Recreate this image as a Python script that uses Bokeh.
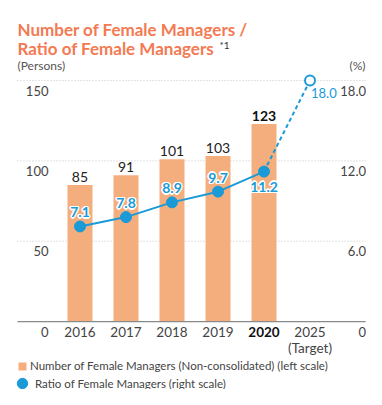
from bokeh.plotting import figure
from bokeh.models import Range1d, Label, Legend, LegendItem, ColumnDataSource
from bokeh.core.properties import value
from bokeh.embed import file_html
from bokeh.resources import INLINE

# ---- data ----
years = ["2016", "2017", "2018", "2019", "2020", "2025"]
year_sub = ["", "", "", "", "", "(Target)"]
managers = [85, 91, 101, 103, 123]
ratios = [7.1, 7.8, 8.9, 9.7, 11.2]
target_ratio = 18.0
left_ticks = [0, 50, 100, 150]
right_ticks = [0, 6.0, 12.0, 18.0]
right_tick_labels = ["0", "6.0", "12.0", "18.0"]

FONT = "Lato"
ORANGE = "#F4AE7D"
BLUE = "#1A9AD7"
TITLE_C = "#F37A52"
TXT = "#444444"

W, H = 366, 389
LEFT_MAX = 150.0
RIGHT_MAX = 18.0
y0, y1 = -42.3, 199.8
p = figure(width=W, height=H, output_backend="svg", toolbar_location=None,
           x_range=Range1d(-1.728, 6.228), y_range=Range1d(y0, y1),
           min_border=0, outline_line_color=None)
p.extra_y_ranges = {"right": Range1d(y0 * RIGHT_MAX / LEFT_MAX, y1 * RIGHT_MAX / LEFT_MAX)}
p.axis.visible = False
p.grid.visible = False
p.background_fill_color = "white"
p.border_fill_color = "white"

xs = list(range(len(years)))
gx0, gx1 = -1.359, 6.228

# gridlines
grid_vals = [v for v in left_ticks if v > 0]
p.segment(x0=[gx0] * len(grid_vals), x1=[gx1] * len(grid_vals), y0=grid_vals, y1=grid_vals,
          line_color="#c8c8c8", line_width=1, line_dash="1 2")

# bars
bar_src = ColumnDataSource(dict(x=xs[:len(managers)], top=managers))
bars = p.vbar(x="x", top="top", width=25 / 46, source=bar_src, fill_color=ORANGE,
              line_color=None)

# baseline
p.segment(x0=[gx0], x1=[6.207], y0=[0], y1=[0], line_color="#8a8a8a", line_width=1.2)

# bar value labels
p.text(x=xs[:4], y=managers[:4], text=[str(m) for m in managers[:4]],
       text_font=value(FONT), text_font_size="14px", text_color="#222222",
       text_align="center", text_baseline="bottom", y_offset=-3)
p.text(x=[xs[4]], y=[managers[4]], text=[str(managers[4])],
       text_font=value(FONT), text_font_size="14px", text_font_style="bold",
       text_color="#111111", text_align="center", text_baseline="bottom", y_offset=-3)

# ratio line
p.line(x=xs[:len(ratios)], y=ratios, y_range_name="right", line_color=BLUE, line_width=2)
p.line(x=[xs[4], xs[5]], y=[ratios[-1], target_ratio], y_range_name="right",
       line_color=BLUE, line_width=2, line_dash="4 3")
pts = p.scatter(x=xs[:len(ratios)], y=ratios, y_range_name="right", size=11,
                fill_color=BLUE, line_color=BLUE)
p.scatter(x=[xs[5]], y=[target_ratio], y_range_name="right", size=10,
          fill_color="white", line_color=BLUE, line_width=2)

# ratio labels with white halo
lab_x = xs[:len(ratios)]
lab_txt = [f"{r:.1f}" for r in ratios]
offs_y = [-14, -14, -14, -14, 15]
for dx, dy in [(-1.5, 0), (1.5, 0), (0, -1.5), (0, 1.5), (-1, -1), (1, 1), (-1, 1), (1, -1)]:
    p.text(x=lab_x, y=ratios, text=lab_txt, y_range_name="right",
           x_offset=dx, y_offset=[o + dy for o in offs_y],
           text_font=value(FONT), text_font_size="14px", text_font_style="bold",
           text_color="white", text_align="center", text_baseline="middle")
p.text(x=lab_x, y=ratios, text=lab_txt, y_range_name="right", y_offset=offs_y,
       text_font=value(FONT), text_font_size="14px", text_font_style="bold",
       text_color=BLUE, text_align="center", text_baseline="middle")
p.text(x=[xs[5]], y=[target_ratio], text=[f"{target_ratio:.1f}"], y_range_name="right",
       x_offset=1, y_offset=12, text_font=value(FONT), text_font_size="13px",
       text_color=BLUE, text_align="left", text_baseline="middle")

# left tick labels (below gridlines)
p.text(x=[-0.685] * len(left_ticks), y=left_ticks, text=[str(t) for t in left_ticks],
       y_offset=10, text_font=value(FONT), text_font_size="13px", text_color=TXT,
       text_align="right", text_baseline="middle")
# right tick labels
p.text(x=[6.217] * len(right_ticks), y=right_ticks, text=right_tick_labels,
       y_range_name="right", y_offset=10, text_font=value(FONT), text_font_size="13px",
       text_color=TXT, text_align="right", text_baseline="middle")

# category labels
p.text(x=xs[:4] + [xs[5]], y=[0] * 5, text=years[:4] + [years[5]], y_offset=10,
       text_font=value(FONT), text_font_size="13.5px", text_color=TXT,
       text_align="center", text_baseline="middle")
p.text(x=[xs[4]], y=[0], text=[years[4]], y_offset=10,
       text_font=value(FONT), text_font_size="13.5px", text_font_style="bold",
       text_color="#111111", text_align="center", text_baseline="middle")
p.text(x=[xs[5]], y=[0], text=[year_sub[5]], y_offset=26,
       text_font=value(FONT), text_font_size="13.5px", text_color=TXT,
       text_align="center", text_baseline="middle")

# titles
def lab(text, x, y, size, color, style="normal", align="left", baseline="alphabetic"):
    p.add_layout(Label(x=x, y=y, x_units="screen", y_units="screen", text=text,
                       text_font=FONT, text_font_size=size, text_color=color,
                       text_font_style=style, text_align=align, text_baseline=baseline))

lab("Number of Female Managers /", 17, 360, "17px", TITLE_C, "bold")
lab("Ratio of Female Managers", 17, 341, "17px", TITLE_C, "bold")
lab("*1", 219, 345, "10px", "#333333")
lab("(Persons)", 17, 324, "12px", "#555555", baseline="middle")
lab("(%)", 365, 324, "12px", "#555555", align="right", baseline="middle")

# legends
common = dict(orientation="vertical", padding=0, margin=0, spacing=0,
              label_text_font=FONT, label_text_font_size="11.5px", label_text_color=TXT,
              background_fill_alpha=0, border_line_color=None)
leg1 = Legend(items=[LegendItem(label="Number of Female Managers (Non-consolidated) (left scale)",
                                renderers=[bars])],
              location=(17, 17), glyph_width=10, glyph_height=10, label_height=10,
              label_standoff=3, **common)
leg2 = Legend(items=[LegendItem(label="Ratio of Female Managers (right scale)", renderers=[pts])],
              location=(9, -7), glyph_width=26, glyph_height=26, label_height=26,
              label_standoff=-5, **common)
p.add_layout(leg1)
p.add_layout(leg2)

open("out.html", "w").write(file_html(p, INLINE))
